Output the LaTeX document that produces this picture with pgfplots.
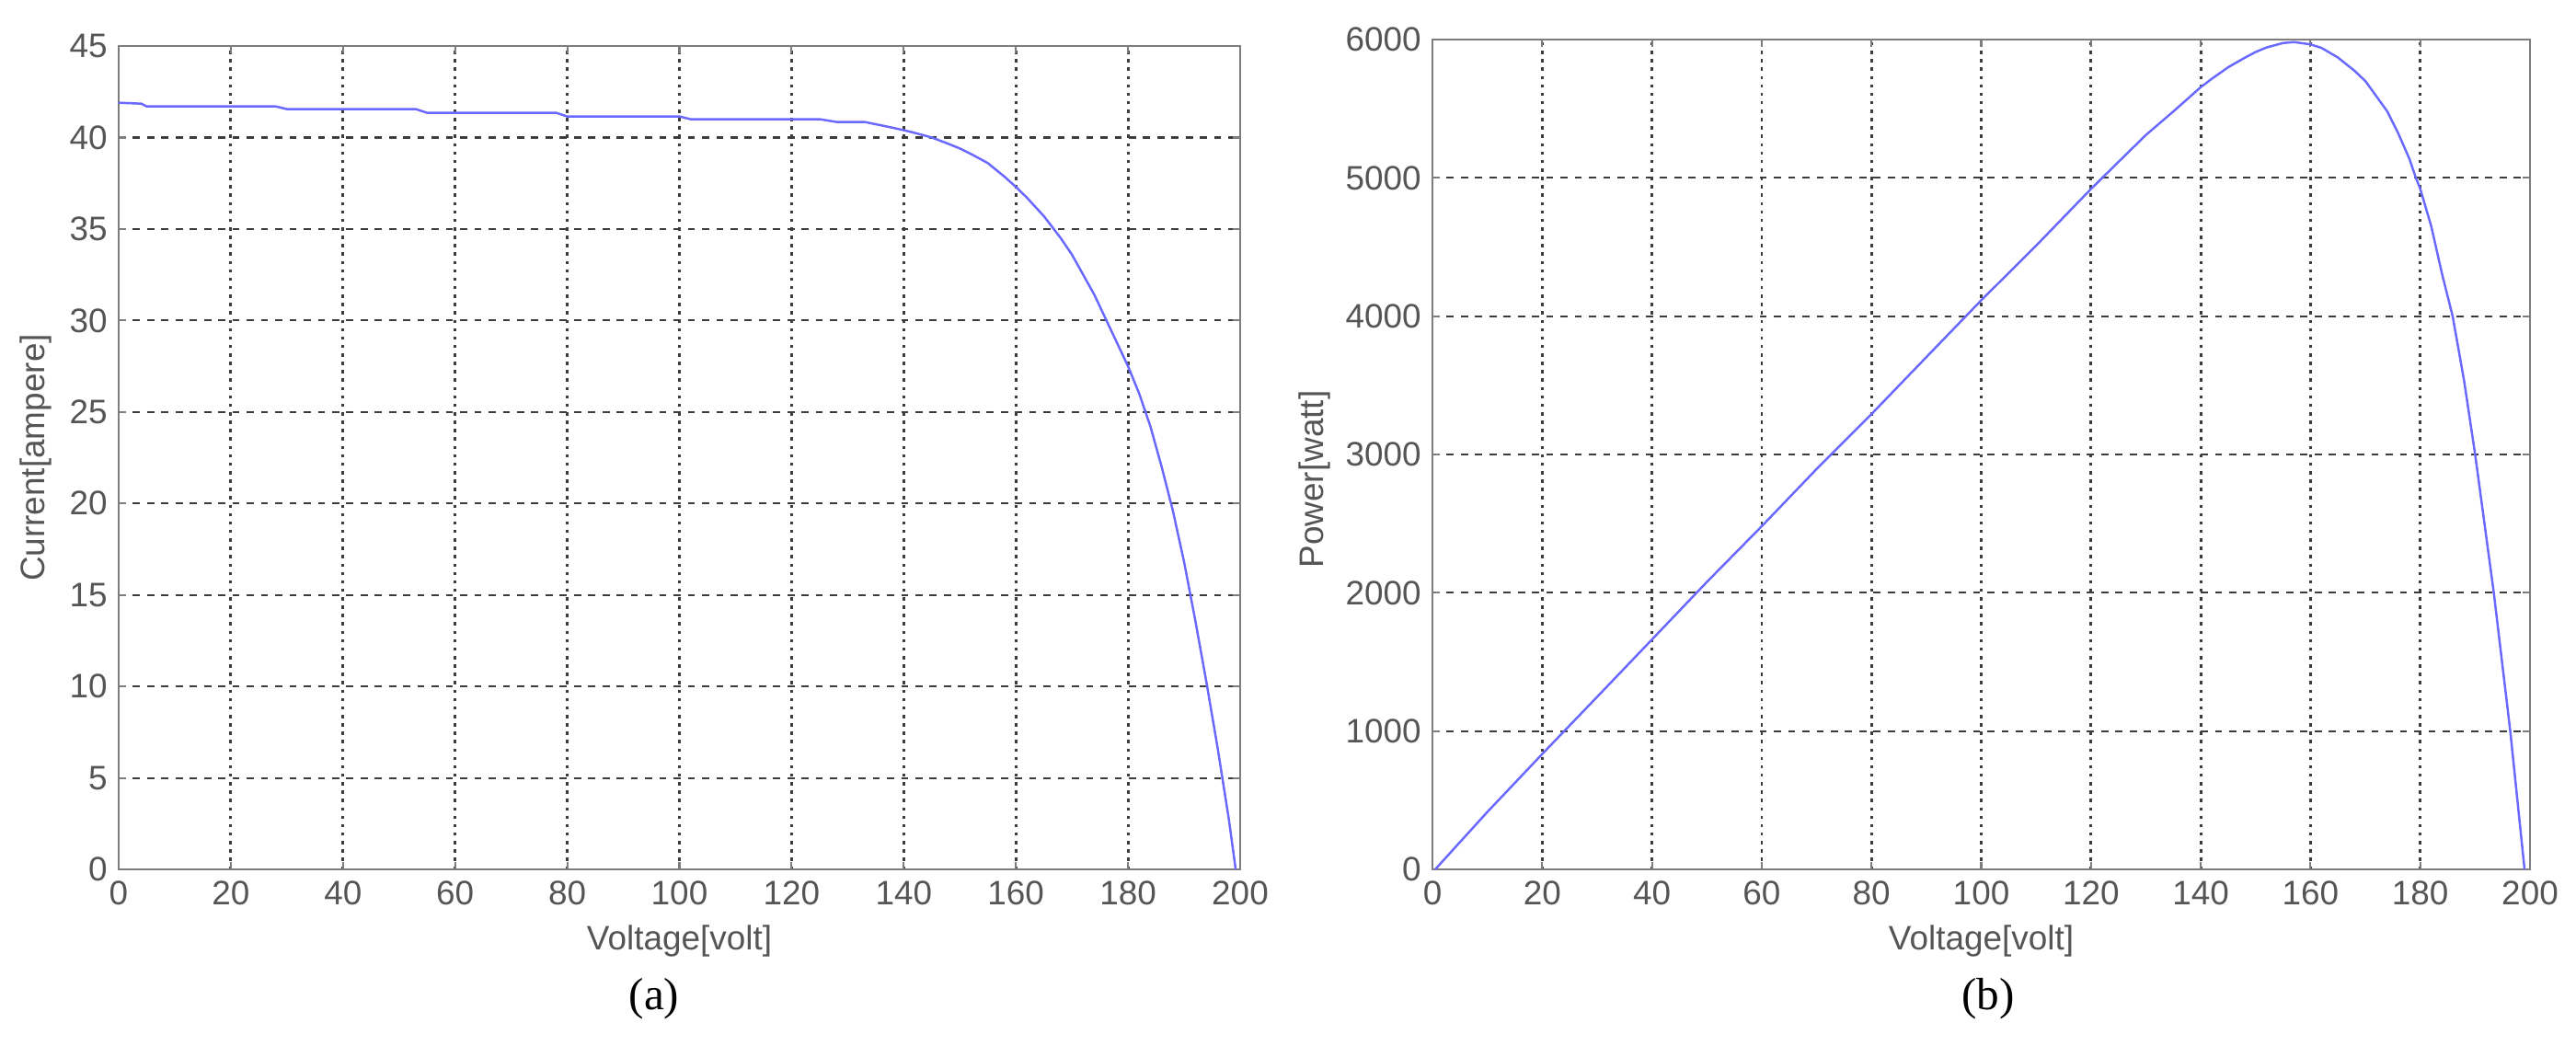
\documentclass[border=0pt]{standalone}
\usepackage{pgfplots}
\pgfplotsset{compat=1.18}
\usepackage{fontspec}
\setmainfont{Liberation Sans}
\newfontfamily\serifcap{Liberation Serif}
\definecolor{curve}{RGB}{105,105,255}
\definecolor{txt}{RGB}{85,85,85}
\definecolor{frame}{RGB}{125,125,125}
\definecolor{gridc}{RGB}{60,60,60}
\pgfplotsset{
  mstyle/.style={
    scale only axis,
    xmin=0, xmax=200,
    xtick={0,20,...,200},
    tick pos=both, tick align=inside,
    major tick length=0.08cm,
    tick style={frame, line width=0.6pt},
    axis line style={frame, line width=0.8pt},
    ymajorgrids, xmajorgrids,
    y grid style={gridc, line width=0.6pt, dash pattern=on 2.2pt off 2.2pt},
    x grid style={gridc, line width=0.8pt, dash pattern=on 1pt off 1.6pt},
    ticklabel style={font=\fontsize{10.5}{12}\selectfont, text=txt},
    /pgf/number format/assume math mode=true,
    /pgf/number format/1000 sep={},
    label style={font=\fontsize{10.5}{12}\selectfont, text=txt},
    xlabel style={at={(axis description cs:0.5,0)}, anchor=center, yshift=-0.78cm},
  }
}
\begin{document}
\begin{tikzpicture}[x=1cm,y=1cm]
\path (0,0) rectangle (28,11.36);
\begin{axis}[mstyle, at={(1.29cm,1.91cm)}, anchor=south west,
  width=12.19cm, height=8.95cm,
  ymin=0, ymax=45, ytick={0,5,...,45},
  xlabel={Voltage[volt]}, ylabel={Current[ampere]},
  ylabel style={at={(axis description cs:-0.074,0.5)}, anchor=center}]
\addplot[curve, line width=0.7pt] coordinates {
(0,41.9)(4,41.85)(5,41.7)(28,41.7)(30,41.55)(53,41.55)(55,41.35)(78,41.35)(80,41.15)(100,41.15)(102,41.0)(125,41.0)(128,40.85)(133,40.85)
(137,40.6)(140,40.4)(142,40.25)(145,40.0)(148,39.65)(150,39.4)(152,39.1)(155,38.6)(158,37.85)(160,37.3)(162,36.7)(165,35.7)(168,34.5)
(170,33.6)(172,32.5)(174,31.4)(176,30.1)(178,28.8)(180,27.5)(182,26.0)(184,24.2)(186,22.0)(188,19.6)(190,16.8)(192,13.6)(194,10.2)
(196,6.6)(198,2.7)(199.2,0)
};
\end{axis}
\begin{axis}[mstyle, at={(15.57cm,1.91cm)}, anchor=south west,
  width=11.93cm, height=9.02cm,
  ymin=0, ymax=6000, ytick={0,1000,...,6000},
  xlabel={Voltage[volt]}, ylabel={Power[watt]},
  ylabel style={at={(axis description cs:-0.107,0.47)}, anchor=center}]
\addplot[curve, line width=0.7pt] coordinates {
(0.5,0)(10,415)(20,834)(30,1247)(40,1662)(50,2078)(60,2481)(70,2895)(80,3292)(90,3704)(100,4115)(110,4510)(120,4920)(130,5310)
(135,5480)(140,5656)(142,5716)(145,5800)(148,5868)(150,5910)(152,5943)(155,5975)(157,5982)(160,5965)(162,5940)(165,5870)(168,5775)
(170,5700)(172,5590)(174,5480)(176,5320)(178,5140)(179.2,5000)(180,4920)(182,4650)(184,4300)(185.9,4000)(188,3530)(190,3000)
(191.7,2500)(193.4,2000)(194.9,1500)(196.4,1000)(197.7,500)(199,0)
};
\end{axis}
\node[font=\serifcap\fontsize{14}{16}\selectfont] at (7.11,0.5) {(a)};
\node[font=\serifcap\fontsize{14}{16}\selectfont] at (21.61,0.5) {(b)};
\end{tikzpicture}
\end{document}
